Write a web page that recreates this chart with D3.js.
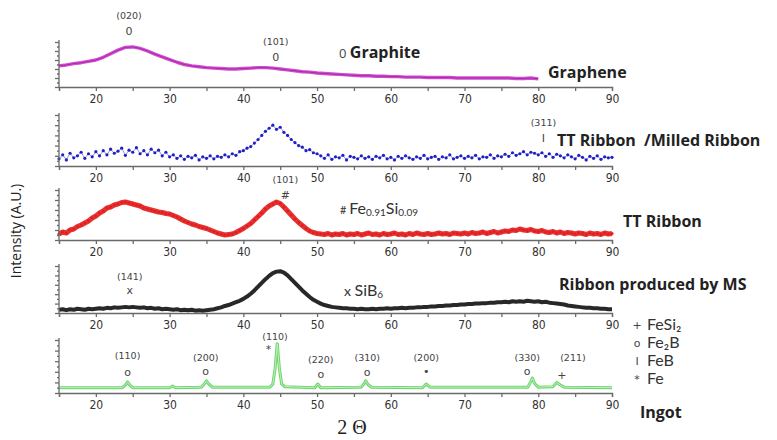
<!DOCTYPE html>
<html>
<head>
<meta charset="utf-8">
<script src="https://cdn.jsdelivr.net/npm/d3@7"></script>
<style>
  body { margin: 0; background: #fff; }
  svg { display: block; }
  .axis path, .axis line { stroke: #6a6a6a; stroke-width: 1.3; }
  .axis text { font-family: "Liberation Sans Narrow", "DejaVu Sans Condensed", "Liberation Sans", sans-serif; font-size: 12px; fill: #333; }
  .tag { font-family: "DejaVu Sans", sans-serif; font-size: 9.5px; fill: #444; text-anchor: middle; }
  .sym { font-family: "DejaVu Sans", sans-serif; font-size: 11px; fill: #444; text-anchor: middle; }
  .name { font-family: "Open Sans", "Liberation Sans", sans-serif; font-weight: bold; font-size: 16px; fill: #222; }
  .leg { font-family: Lato, "Liberation Sans", sans-serif; font-size: 16px; fill: #333; }
</style>
</head>
<body>
<div id="chart"></div>
<script>
// 2-theta grid: noisy series sampled every 0.5 deg from 15, graphene every 1 deg
const xTicks = [20, 30, 40, 50, 60, 70, 80, 90];

const graphene = [
  0.47,0.49,0.52,0.54,0.57,0.60,0.66,0.74,0.82,0.88,
  0.89,0.86,0.80,0.73,0.67,0.61,0.55,0.50,0.47,0.45,
  0.43,0.42,0.41,0.40,0.40,0.41,0.42,0.43,0.43,0.42,
  0.40,0.38,0.36,0.34,0.33,0.31,0.30,0.29,0.28,0.27,
  0.26,0.25,0.25,0.24,0.24,0.23,0.23,0.22,0.22,0.22,
  0.21,0.21,0.21,0.21,0.20,0.20,0.20,0.20,0.20,0.20,
  0.20,0.20,0.19,0.19,0.20,0.18
];

const milled = [
  0.14,0.22,0.12,0.25,0.16,0.20,0.27,0.15,0.24,0.18,
  0.28,0.20,0.30,0.22,0.33,0.25,0.29,0.35,0.21,0.31,
  0.27,0.36,0.24,0.30,0.22,0.33,0.26,0.31,0.20,0.27,
  0.18,0.22,0.15,0.20,0.13,0.19,0.16,0.21,0.12,0.18,
  0.15,0.20,0.14,0.19,0.17,0.22,0.18,0.24,0.21,0.28,
  0.30,0.35,0.38,0.45,0.52,0.60,0.68,0.74,0.80,0.72,
  0.76,0.66,0.60,0.52,0.46,0.40,0.37,0.30,0.32,0.26,
  0.24,0.20,0.15,0.22,0.13,0.18,0.16,0.21,0.12,0.19,
  0.17,0.14,0.20,0.15,0.18,0.13,0.19,0.16,0.21,0.14,
  0.17,0.12,0.19,0.15,0.20,0.16,0.13,0.18,0.15,0.21,
  0.14,0.17,0.19,0.13,0.18,0.16,0.22,0.14,0.17,0.20,
  0.15,0.19,0.16,0.21,0.14,0.18,0.17,0.22,0.15,0.20,
  0.18,0.23,0.19,0.26,0.21,0.24,0.28,0.22,0.27,0.25,
  0.22,0.26,0.19,0.24,0.17,0.23,0.20,0.16,0.22,0.18,
  0.14,0.21,0.17,0.12,0.19,0.15,0.20,0.13,0.18,0.16,
  0.17
];

const ttRibbon = [
  0.12,0.16,0.14,0.20,0.22,0.27,0.30,0.34,0.38,0.44,
  0.48,0.54,0.58,0.64,0.66,0.70,0.72,0.75,0.76,0.74,
  0.72,0.70,0.68,0.64,0.62,0.60,0.58,0.56,0.55,0.53,
  0.52,0.49,0.46,0.42,0.38,0.35,0.32,0.30,0.27,0.25,
  0.23,0.20,0.17,0.14,0.12,0.10,0.11,0.12,0.15,0.19,
  0.23,0.28,0.33,0.40,0.47,0.54,0.62,0.68,0.72,0.76,
  0.73,0.66,0.58,0.50,0.42,0.35,0.29,0.23,0.18,0.15,
  0.13,0.12,0.11,0.13,0.10,0.12,0.11,0.13,0.10,0.12,
  0.11,0.13,0.10,0.12,0.14,0.11,0.12,0.10,0.13,0.11,
  0.12,0.14,0.11,0.12,0.10,0.13,0.11,0.14,0.12,0.11,
  0.13,0.11,0.12,0.14,0.12,0.13,0.11,0.14,0.13,0.12,
  0.14,0.12,0.15,0.13,0.14,0.16,0.13,0.15,0.17,0.14,
  0.16,0.18,0.17,0.20,0.19,0.22,0.20,0.19,0.21,0.18,
  0.17,0.19,0.16,0.15,0.17,0.14,0.16,0.13,0.15,0.14,
  0.12,0.14,0.13,0.11,0.14,0.12,0.13,0.11,0.14,0.12,
  0.13
];

const msRibbon = [
  0.07,0.08,0.06,0.08,0.07,0.09,0.08,0.07,0.09,0.08,
  0.09,0.10,0.09,0.11,0.10,0.12,0.11,0.12,0.13,0.12,
  0.13,0.12,0.11,0.12,0.10,0.11,0.09,0.10,0.08,0.09,
  0.08,0.07,0.08,0.06,0.07,0.06,0.07,0.05,0.06,0.05,
  0.06,0.07,0.08,0.10,0.12,0.15,0.17,0.20,0.23,0.26,
  0.30,0.35,0.41,0.48,0.56,0.64,0.72,0.79,0.85,0.88,
  0.89,0.86,0.80,0.72,0.64,0.56,0.48,0.41,0.34,0.28,
  0.24,0.20,0.17,0.15,0.13,0.12,0.11,0.10,0.10,0.09,
  0.09,0.08,0.09,0.08,0.08,0.09,0.08,0.09,0.09,0.10,
  0.09,0.10,0.10,0.11,0.10,0.11,0.11,0.12,0.12,0.13,
  0.13,0.14,0.14,0.15,0.15,0.16,0.16,0.17,0.17,0.18,
  0.18,0.19,0.19,0.20,0.20,0.21,0.21,0.22,0.22,0.23,
  0.23,0.24,0.23,0.25,0.24,0.25,0.24,0.26,0.25,0.24,
  0.25,0.23,0.24,0.22,0.21,0.20,0.19,0.18,0.16,0.15,
  0.14,0.13,0.12,0.11,0.11,0.10,0.10,0.09,0.09,0.08,
  0.08
];

// ingot: [2theta, intensity] read along the sharp reflections
const ingot = [
  [15,0.10],[23.6,0.10],[24.0,0.15],[24.3,0.21],[24.6,0.15],[25.0,0.10],
  [30.0,0.10],[30.4,0.13],[30.8,0.10],[34.3,0.11],[34.7,0.17],[35.0,0.23],
  [35.3,0.17],[35.8,0.11],[43.6,0.11],[44.0,0.17],[44.3,0.45],[44.6,0.93],
  [44.9,0.45],[45.2,0.17],[45.6,0.12],[49.7,0.10],[50.1,0.17],[50.5,0.10],
  [56.0,0.11],[56.4,0.18],[56.6,0.23],[56.9,0.16],[57.4,0.11],[64.3,0.10],
  [64.8,0.17],[65.3,0.11],[78.6,0.11],[79.0,0.22],[79.2,0.28],[79.5,0.18],
  [80.0,0.11],[82.0,0.12],[82.5,0.20],[83.0,0.15],[83.5,0.11],[90,0.10]
];

// reflection tags: [2theta, label, symbol, label height, symbol height] (panel units)
const tagsGraphene = [[24.5,'(020)','0',1.58,1.24],[44.4,'(101)','0',1.0,0.67]];
const tagsMilled = [[80.7,'(311)','I',0.84,0.55]];
const tagsTT = [[45.7,'(101)','#',1.2,0.9]];
const tagsMS = [[24.6,'(141)','x',0.77,0.49]];
const tagsIngot = [
  [24.3,'(110)','o',0.70,0.40],[34.9,'(200)','o',0.66,0.42],[44.3,'(110)','',1.06,0],
  [43.4,'','*',0,0.83],[50.5,'(220)','o',0.62,0.36],[56.8,'(310)','o',0.66,0.39],
  [64.8,'(200)','•',0.66,0.41],[78.5,'(330)','o',0.66,0.41],[84.7,'(211)','',0.66,0],
  [83.2,'','+',0,0.34]
];
const legendItems = [['+','FeSi₂'],['o','Fe₂B'],['I','FeB'],['*','Fe']];

const W = 777, H = 440;
const svg = d3.select('#chart').append('svg').attr('width', W).attr('height', H);
const x = d3.scaleLinear().domain([15, 90]).range([59, 612]);

const halfGrid = a => a.map((v, i) => [15 + i * 0.5, v]);
const fullGrid = a => a.map((v, i) => [15 + i, v]);

const panels = [
  { data: fullGrid(graphene), tags: tagsGraphene, top: 42, bottom: 87, color: '#cc3acc', width: 3.4, dots: false },
  { data: halfGrid(milled), tags: tagsMilled, top: 115, bottom: 166, color: '#1f1fc4', width: 0.9, dots: true },
  { data: halfGrid(ttRibbon), tags: tagsTT, top: 190, bottom: 240, color: '#e31e1e', width: 5, dots: true },
  { data: halfGrid(msRibbon), tags: tagsMS, top: 266, bottom: 313, color: '#111', width: 4, dots: false },
  { data: ingot, tags: tagsIngot, top: 340, bottom: 393, color: '#5cd25c', width: 3, dots: false }
];

panels.forEach(p => {
  const y = d3.scaleLinear().domain([0, 1]).range([p.bottom, p.top]);
  const g = svg.append('g');

  const line = d3.line().x(d => x(d[0])).y(d => y(d[1]));
  g.append('path').datum(p.data).attr('d', line)
    .attr('fill', 'none').attr('stroke', p.color).attr('stroke-width', p.width)
    .attr('stroke-linejoin', 'round').attr('opacity', p === panels[1] ? 0.55 : 0.9);
  if (p === panels[4]) {
    g.append('path').datum(p.data).attr('d', line)
      .attr('fill', 'none').attr('stroke', '#c9f2c9').attr('stroke-width', 0.9);
  }
  if (p === panels[0]) {
    g.append('path').datum(p.data).attr('d', line)
      .attr('fill', 'none').attr('stroke', '#9d1f9d').attr('stroke-width', 0.8);
  }
  if (p.dots) {
    g.selectAll('circle').data(p.data).enter().append('circle')
      .attr('cx', d => x(d[0])).attr('cy', d => y(d[1])).attr('r', 1.6)
      .attr('fill', p.color);
  }

  g.append('g').attr('class', 'axis').attr('transform', `translate(0,${p.bottom})`)
    .call(d3.axisBottom(x).tickValues(d3.range(15, 91, 5)).tickSize(4).tickPadding(3)
      .tickFormat(d => xTicks.includes(d) ? d : ''));

  const yAx = g.append('g').attr('class', 'axis').attr('transform', `translate(${x(15)},0)`)
    .call(d3.axisLeft(y).tickValues(d3.range(0, 1.01, 0.1)).tickSize(3).tickFormat(''));
  yAx.selectAll('.tick line').attr('x2', (d, i) => i % 2 ? -2 : -4);
  yAx.select('.domain').attr('d', `M0,${p.bottom}V${p.top - 2}`);

  p.tags.forEach(t => {
    if (t[1]) g.append('text').attr('class', 'tag').attr('x', x(t[0])).attr('y', y(t[3]) + 3).text(t[1]);
    if (t[2]) g.append('text').attr('class', 'sym').attr('x', x(t[0])).attr('y', y(t[4]) + 4).text(t[2]);
  });
});

// series names and phase keys
const names = [
  ['Graphene', 548, 78], ['TT Ribbon  /Milled Ribbon', 557, 146], ['TT Ribbon', 623, 227],
  ['Ribbon produced by MS', 559, 290], ['Ingot', 640, 418]
];
svg.selectAll('.name').data(names).enter().append('text').attr('class', 'name')
  .attr('x', d => d[1]).attr('y', d => d[2]).attr('xml:space', 'preserve').text(d => d[0]);

const graphite = svg.append('text').attr('class', 'name').attr('x', 339).attr('y', 58);
graphite.append('tspan').attr('font-weight', 'normal').attr('font-size', 13).attr('fill', '#444').text('0 ');
graphite.append('tspan').text('Graphite');

const fesi = svg.append('text').attr('class', 'leg').attr('x', 340).attr('y', 214).attr('font-size', 15);
fesi.append('tspan').attr('font-size', 11).text('# ');
fesi.append('tspan').text('Fe');
fesi.append('tspan').attr('font-size', 10).attr('dy', 2).text('0.91');
fesi.append('tspan').attr('dy', -2).text('Si');
fesi.append('tspan').attr('font-size', 10).attr('dy', 2).text('0.09');

const sib = svg.append('text').attr('class', 'leg').attr('x', 344).attr('y', 296).attr('font-size', 15);
sib.append('tspan').attr('font-size', 14).text('x ');
sib.append('tspan').text('SiB');
sib.append('tspan').attr('font-size', 10).attr('dy', 2).text('6');

const leg = svg.selectAll('.legrow').data(legendItems).enter().append('g')
  .attr('transform', (d, i) => `translate(637,${330 + i * 18})`);
leg.append('text').attr('class', 'sym').attr('x', 0).attr('y', -1).text(d => d[0]);
leg.append('text').attr('class', 'leg').attr('x', 10).attr('y', 0).text(d => d[1]);

svg.append('text').attr('transform', 'translate(21,231) rotate(-90)')
  .attr('text-anchor', 'middle').attr('font-family', 'Open Sans, Liberation Sans, sans-serif')
  .attr('font-size', 14).attr('fill', '#222').text('Intensity (A.U.)');

svg.append('text').attr('x', 352).attr('y', 434).attr('text-anchor', 'middle')
  .attr('font-family', 'Liberation Serif, serif').attr('font-size', 20).attr('fill', '#222').text('2 Θ');
</script>
</body>
</html>
